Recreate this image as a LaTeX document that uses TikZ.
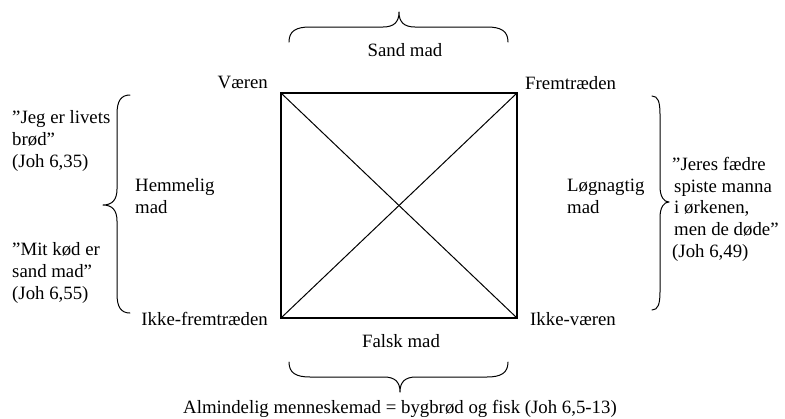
\documentclass[tikz,border=0pt]{standalone}
\usepackage{fontspec}
\setmainfont{Liberation Serif}
\begin{document}
\begin{tikzpicture}[x=1pt,y=-1pt,
  lbl/.style={inner sep=0pt,font=\fontsize{18.8}{21.7}\selectfont},
  brc/.style={line width=1pt,line cap=round,line join=round}]
\useasboundingbox (0,0) rectangle (785,418);
% square
\coordinate (tl) at (281,93);
\coordinate (tr) at (517,93);
\coordinate (bl) at (281,318);
\coordinate (br) at (517,318);
\draw[line width=2.5pt] (tl) -- (tr) -- (br) -- (bl) -- cycle;
\draw[line width=1pt] (tl) -- (br);
\draw[line width=1pt] (tr) -- (bl);
% corner labels
\node[lbl,anchor=base east] (vaeren) at (268,88) {Væren};
\node[lbl,anchor=base west] (frem) at (525,89) {Fremtræden};
\node[lbl,anchor=base east] (ikkefrem) at (268,325) {Ikke-fremtræden};
\node[lbl,anchor=base west] (ikkevaer) at (530,325) {Ikke-væren};
% side labels
\node[lbl,anchor=base] (sand) at (405,56) {Sand mad};
\node[lbl,anchor=base] (falsk) at (401,347) {Falsk mad};
\node[lbl,anchor=base] (alm) at (400,413) {Almindelig menneskemad = bygbrød og fisk (Joh 6,5-13)};
\node[lbl,anchor=base west] (hem1) at (135,191) {Hemmelig};
\node[lbl,anchor=base west] (hem2) at (135,213) {mad};
\node[lbl,anchor=base west] (log1) at (567,191) {Løgnagtig};
\node[lbl,anchor=base west] (log2) at (567,213) {mad};
% left quotes
\node[lbl,anchor=base west] (q1) at (12,123) {”Jeg er livets};
\node[lbl,anchor=base west] (q2) at (12,145) {brød”};
\node[lbl,anchor=base west] (q3) at (12,167) {(Joh 6,35)};
\node[lbl,anchor=base west] (q4) at (12,255) {”Mit kød er};
\node[lbl,anchor=base west] (q5) at (12,277) {sand mad”};
\node[lbl,anchor=base west] (q6) at (12,299) {(Joh 6,55)};
% right quote
\node[lbl,anchor=base west] (r1) at (672,170) {”Jeres fædre};
\node[lbl,anchor=base west] (r2) at (674,192) {spiste manna};
\node[lbl,anchor=base west] (r3) at (674,213) {i ørkenen,};
\node[lbl,anchor=base west] (r4) at (674,235) {men de døde”};
\node[lbl,anchor=base west] (r5) at (672,257) {(Joh 6,49)};
% top brace
\draw[brc] (289,42) .. controls (289,31) and (296,27) .. (310,27) -- (383,27)
  .. controls (394,27) and (399,22) .. (399,12)
  .. controls (399,22) and (404,27) .. (415,27) -- (487,27)
  .. controls (501,27) and (508,31) .. (508,42);
% bottom brace
\draw[brc] (289,362) .. controls (289,373) and (296,377) .. (310,377) -- (384,377)
  .. controls (395,377) and (400,382) .. (400,392)
  .. controls (400,382) and (405,377) .. (416,377) -- (487,377)
  .. controls (501,377) and (508,373) .. (508,362);
% left brace
\draw[brc] (130,95) .. controls (121,95) and (117,101) .. (117,114) -- (117,189)
  .. controls (117,200) and (112,205) .. (103,205)
  .. controls (112,205) and (117,210) .. (117,221) -- (117,294)
  .. controls (117,307) and (121,313) .. (130,313);
% right brace
\draw[brc] (652,96) .. controls (658,96) and (660,102) .. (660,114) -- (660,186)
  .. controls (660,197) and (664,202) .. (669,202)
  .. controls (664,202) and (660,207) .. (660,218) -- (660,292)
  .. controls (660,304) and (658,310) .. (652,310);
\end{tikzpicture}
\end{document}
